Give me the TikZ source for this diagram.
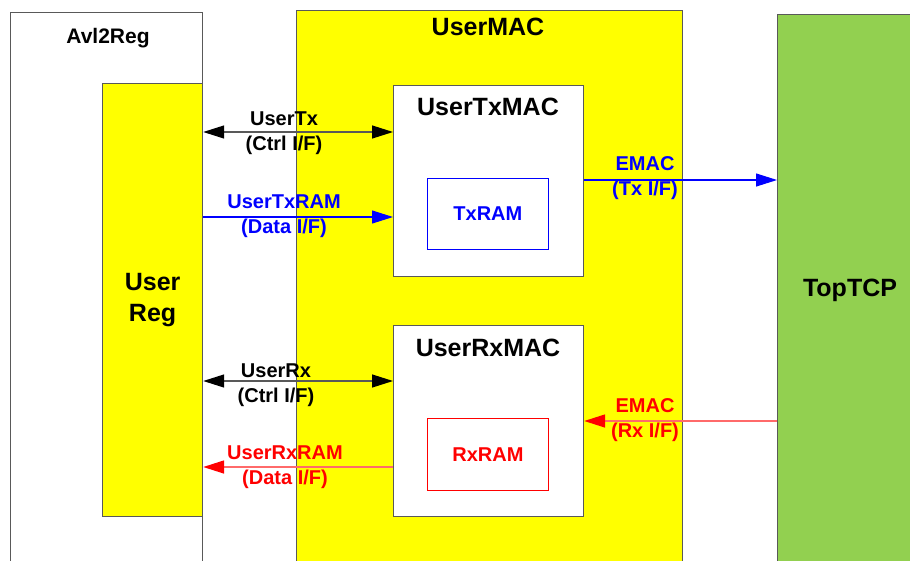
\documentclass[tikz,border=0pt]{standalone}
\usepackage{fontspec}
\setmainfont{Liberation Sans}
\usetikzlibrary{arrows.meta}
\definecolor{bordergray}{HTML}{595959}
\definecolor{myyellow}{HTML}{FFFF00}
\definecolor{mygreen}{HTML}{92D050}
\definecolor{myblue}{HTML}{0000FF}
\definecolor{myred}{HTML}{FF0000}
\definecolor{lightred}{HTML}{FF6A6A}
\tikzset{
  box/.style={draw=bordergray, line width=1.2pt, rectangle, anchor=north west, inner sep=0pt},
  title/.style={font=\bfseries\fontsize{25}{30}\selectfont},
  lbl/.style={font=\bfseries\fontsize{20}{25}\selectfont, align=center, inner sep=0pt},
  tip/.style={-{Triangle[length=21pt,width=13pt,color=#1]}},
  dtip/.style={{Triangle[length=21pt,width=13pt,color=#1]}-{Triangle[length=21pt,width=13pt,color=#1]}},
}
\begin{document}
\begin{tikzpicture}[x=1pt,y=-1pt]
\clip (0,0) rectangle (910,560);
\fill[white] (0,0) rectangle (910,560);
% big boxes
\node[box, fill=white, minimum width=192pt, minimum height=600pt] (avl) at (10,12) {};
\node[box, fill=myyellow, minimum width=386pt, minimum height=600pt] (usermac) at (296,10) {};
\node[box, fill=mygreen, minimum width=160pt, minimum height=600pt] (toptcp) at (777,14) {};
% inner boxes
\node[box, fill=myyellow, minimum width=100pt, minimum height=433pt, font=\bfseries\fontsize{25}{31}\selectfont, align=center] (userreg) at (102,83) {User\\Reg};
\node[box, fill=white, minimum width=190pt, minimum height=191pt] (txmac) at (393,85) {};
\node[box, fill=white, minimum width=190pt, minimum height=191pt] (rxmac) at (393,325) {};
\node[box, draw=myblue, line width=0.8pt, fill=white, minimum width=121pt, minimum height=71pt, text=myblue, font=\bfseries\fontsize{20}{24}\selectfont] (txram) at (427,178) {TxRAM};
\node[box, draw=myred, line width=0.8pt, fill=white, minimum width=121pt, minimum height=72pt, text=myred, font=\bfseries\fontsize{20}{24}\selectfont] (rxram) at (427,418) {RxRAM};
% titles
\node[font=\bfseries\fontsize{21}{25}\selectfont] (avlt) at (108,38) {Avl2Reg};
\node[title] (umt) at (488,27) {UserMAC};
\node[title] (txt) at (488,107) {UserTxMAC};
\node[title] (rxt) at (488,348) {UserRxMAC};
\node[title] (tcpt) at (850,290) {TopTCP};
% connector levels
\coordinate (yA) at (0,132);
\coordinate (yB) at (0,217);
\coordinate (yC) at (0,180);
\coordinate (yD) at (0,381);
\coordinate (yE) at (0,421);
\coordinate (yF) at (0,467);
\draw[dtip=black, draw=bordergray, line width=1.3pt] (userreg.east |- yA) -- (txmac.west |- yA);
\draw[tip=myblue, draw=myblue, line width=1.1pt] (userreg.east |- yB) -- (txmac.west |- yB);
\draw[tip=myblue, draw=myblue, line width=1.1pt] (txmac.east |- yC) -- (toptcp.west |- yC);
\draw[dtip=black, draw=bordergray, line width=1.3pt] (userreg.east |- yD) -- (rxmac.west |- yD);
\draw[tip=myred, draw=lightred, line width=1.6pt] (toptcp.west |- yE) -- (rxmac.east |- yE);
\draw[tip=myred, draw=lightred, line width=1.6pt] (rxmac.west |- yF) -- (userreg.east |- yF);
% labels
\node[lbl] (la) at (284,133) {UserTx\\(Ctrl I/F)};
\node[lbl, text=myblue] (lb) at (284,216) {UserTxRAM\\(Data I/F)};
\node[lbl, text=myblue] (lc) at (645,178) {EMAC\\(Tx I/F)};
\node[lbl] (ld) at (276,385) {UserRx\\(Ctrl I/F)};
\node[lbl, text=myred] (le) at (645,420) {EMAC\\(Rx I/F)};
\node[lbl, text=myred] (lf) at (285,467) {UserRxRAM\\(Data I/F)};
\end{tikzpicture}
\end{document}
